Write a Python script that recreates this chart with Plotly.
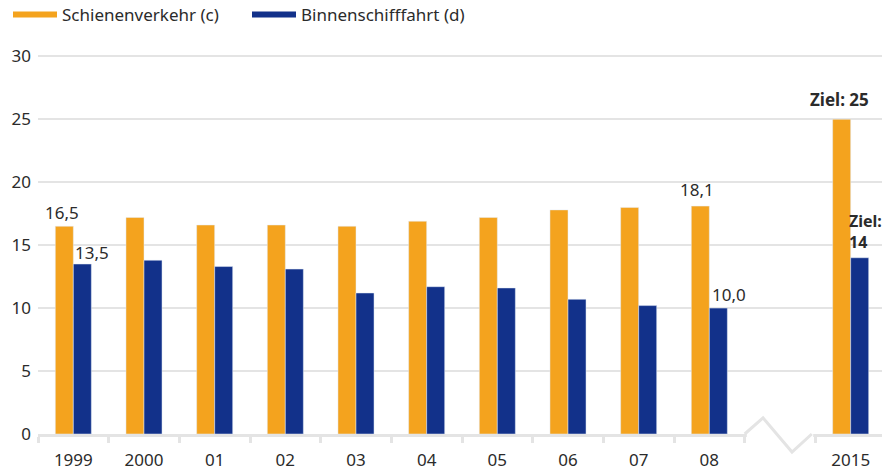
import plotly.graph_objects as go

# Daten
jahre = ["1999", "2000", "01", "02", "03", "04", "05", "06", "07", "08", " ", "2015"]
schiene = [16.5, 17.2, 16.6, 16.6, 16.5, 16.9, 17.2, 17.8, 18.0, 18.1, None, 25]
binnen = [13.5, 13.8, 13.3, 13.1, 11.2, 11.7, 11.6, 10.7, 10.2, 10.0, None, 14]
y_ticks = [0, 5, 10, 15, 20, 25, 30]

ORANGE = "#F4A31E"
BLAU = "#12318A"
GRAU = "#e4e4e4"
TEXT = "#2b2b2b"
FONT = "Noto Sans"

fig = go.Figure()

fig.add_trace(go.Bar(x=jahre, y=schiene, marker_color=ORANGE, showlegend=False))
fig.add_trace(go.Bar(x=jahre, y=binnen, marker_color=BLAU, showlegend=False))

# Legende mit Linien-Symbolen
fig.add_trace(go.Scatter(x=[None], y=[None], mode="lines", name="Schienenverkehr (c)",
                         line=dict(color=ORANGE, width=6)))
fig.add_trace(go.Scatter(x=[None], y=[None], mode="lines", name="Binnenschifffahrt (d)",
                         line=dict(color=BLAU, width=6)))

def fmt(v):
    return f"{v:.1f}".replace(".", ",")

# Wertebeschriftungen (x als Kategorie-Index)
i99, i08, i15 = 0, 9, 11
fig.add_annotation(x=i99, y=schiene[i99], text=fmt(schiene[i99]), showarrow=False,
                   xshift=-11, yanchor="bottom", yshift=0)
fig.add_annotation(x=i99, y=binnen[i99], text=fmt(binnen[i99]), showarrow=False,
                   xshift=19, yanchor="bottom", yshift=-2)
fig.add_annotation(x=i08, y=schiene[i08], text=fmt(schiene[i08]), showarrow=False,
                   xshift=-12, yanchor="bottom", yshift=3)
fig.add_annotation(x=i08, y=binnen[i08], text=fmt(binnen[i08]), showarrow=False,
                   xshift=20, yanchor="bottom", yshift=0)
fig.add_annotation(x=i15, y=schiene[i15], text=f"<b>Ziel: {schiene[i15]}</b>",
                   showarrow=False, xshift=-11, yanchor="bottom", yshift=6)
fig.add_annotation(x=i15, y=binnen[i15], text=f"<b>Ziel:<br>{binnen[i15]}</b>",
                   showarrow=False, xanchor="left", xshift=-4, align="left",
                   yanchor="bottom", yshift=3, font=dict(size=16))

# Achsenunterbrechung zwischen 08 und 2015
fig.add_shape(type="rect", xref="x", yref="paper", x0=9.53, x1=10.47, y0=-0.012, y1=0.006,
              fillcolor="white", line_width=0, layer="above")
fig.add_shape(type="path", xref="x", yref="paper",
              path="M 9.5,0 L 9.76,0.042 L 10.17,-0.047 L 10.45,0",
              line=dict(color=GRAU, width=3), layer="above")

# Seite hat 8px Rand -> Figur entsprechend kleiner/verschoben
fig.update_layout(
    width=882, height=462,
    margin=dict(l=30, r=4, t=42, b=36, autoexpand=False),
    paper_bgcolor="white", plot_bgcolor="white",
    barmode="group", bargap=0.49, bargroupgap=0,
    font=dict(family=FONT, size=17, color=TEXT),
    legend=dict(orientation="h", x=-0.007, xref="container", xanchor="left",
                y=1.091, yanchor="middle",
                font=dict(size=17, color=TEXT), bgcolor="rgba(0,0,0,0)",
                itemwidth=44, entrywidth=180, entrywidthmode="pixels", tracegroupgap=0),
    xaxis=dict(type="category", categoryorder="array", categoryarray=jahre,
               range=[-0.5, 11.5], showgrid=False, zeroline=False,
               showline=True, linecolor=GRAU, linewidth=3,
               ticks="outside", tickson="boundaries", ticklen=6, tickwidth=3,
               tickcolor=GRAU, ticklabelstandoff=9, automargin=False,
               tickfont=dict(size=17, color=TEXT), fixedrange=True),
    yaxis=dict(range=[0, 30.5], tickvals=y_ticks, showgrid=True, gridcolor=GRAU,
               gridwidth=2, zeroline=False, showline=False, ticks="",
               ticklabelstandoff=6, automargin=False,
               tickfont=dict(size=17, color=TEXT), fixedrange=True),
)

fig.write_html("out.html")
